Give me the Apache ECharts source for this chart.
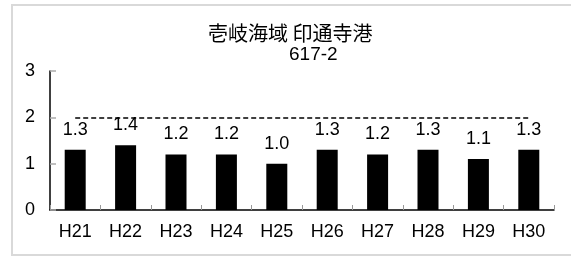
<!DOCTYPE html>
<html><head><meta charset="utf-8">
<script src="https://cdn.jsdelivr.net/npm/echarts@6/dist/echarts.min.js"></script>
<style>html,body{margin:0;padding:0;background:#fff}#c{width:571px;height:256px}</style>
</head><body><div id="c"></div>
<script>
var titleText = '壱岐海域 印通寺港';
var subText = '617-2';
var categories = ['H21','H22','H23','H24','H25','H26','H27','H28','H29','H30'];
var values = [1.3, 1.4, 1.2, 1.2, 1.0, 1.3, 1.2, 1.3, 1.1, 1.3];
var refValue = 2;
var yTicks = [0, 1, 2, 3];

var font = 'Arial, "Liberation Sans", "Noto Sans CJK JP", sans-serif';
var chart = echarts.init(document.getElementById('c'), null, {renderer: 'canvas'});
chart.setOption({
  animation: false,
  backgroundColor: '#fff',
  graphic: [{
    type: 'rect', silent: true, z: -10,
    shape: {x: 12, y: 5, width: 580, height: 250},
    style: {fill: 'none', stroke: '#d9d9d9', lineWidth: 2}
  }],
  title: [
    {text: titleText, left: 208, top: 23, padding: 0,
     textStyle: {fontFamily: '"Noto Sans CJK JP", sans-serif', fontSize: 20, fontWeight: 'normal', color: '#000'}},
    {text: subText, left: 289, top: 45, padding: 0,
     textStyle: {fontFamily: font, fontSize: 19, fontWeight: 'normal', color: '#000'}}
  ],
  grid: {left: 50, right: 17, top: 71, bottom: 46, containLabel: false},
  xAxis: {
    type: 'category', data: categories,
    axisLine: {lineStyle: {color: '#000', width: 1.5}},
    axisTick: {show: true, inside: true, length: 5, lineStyle: {color: '#999'}},
    axisLabel: {fontFamily: font, fontSize: 18, color: '#000', margin: 13}
  },
  yAxis: {
    type: 'value', min: yTicks[0], max: yTicks[yTicks.length - 1], interval: 1,
    splitLine: {show: false},
    axisLine: {show: true, lineStyle: {color: '#000', width: 1.5}},
    axisTick: {show: true, inside: true, length: 6, lineStyle: {color: '#aaa', width: 1.5}},
    axisLabel: {fontFamily: font, fontSize: 18, color: '#000', margin: 15}
  },
  series: [{
    type: 'bar', data: values, barWidth: 21,
    itemStyle: {color: '#000'},
    label: {show: true, position: 'top', distance: 11, fontFamily: font, fontSize: 18, color: '#000',
      formatter: function (p) { return p.value.toFixed(1); }},
    markLine: {
      silent: true, symbol: 'none', label: {show: false},
      lineStyle: {color: '#000', type: [5, 3], width: 1.5},
      data: [[{coord: [categories[0], refValue]}, {coord: [categories[categories.length - 1], refValue]}]]
    }
  }]
});
</script></body></html>
